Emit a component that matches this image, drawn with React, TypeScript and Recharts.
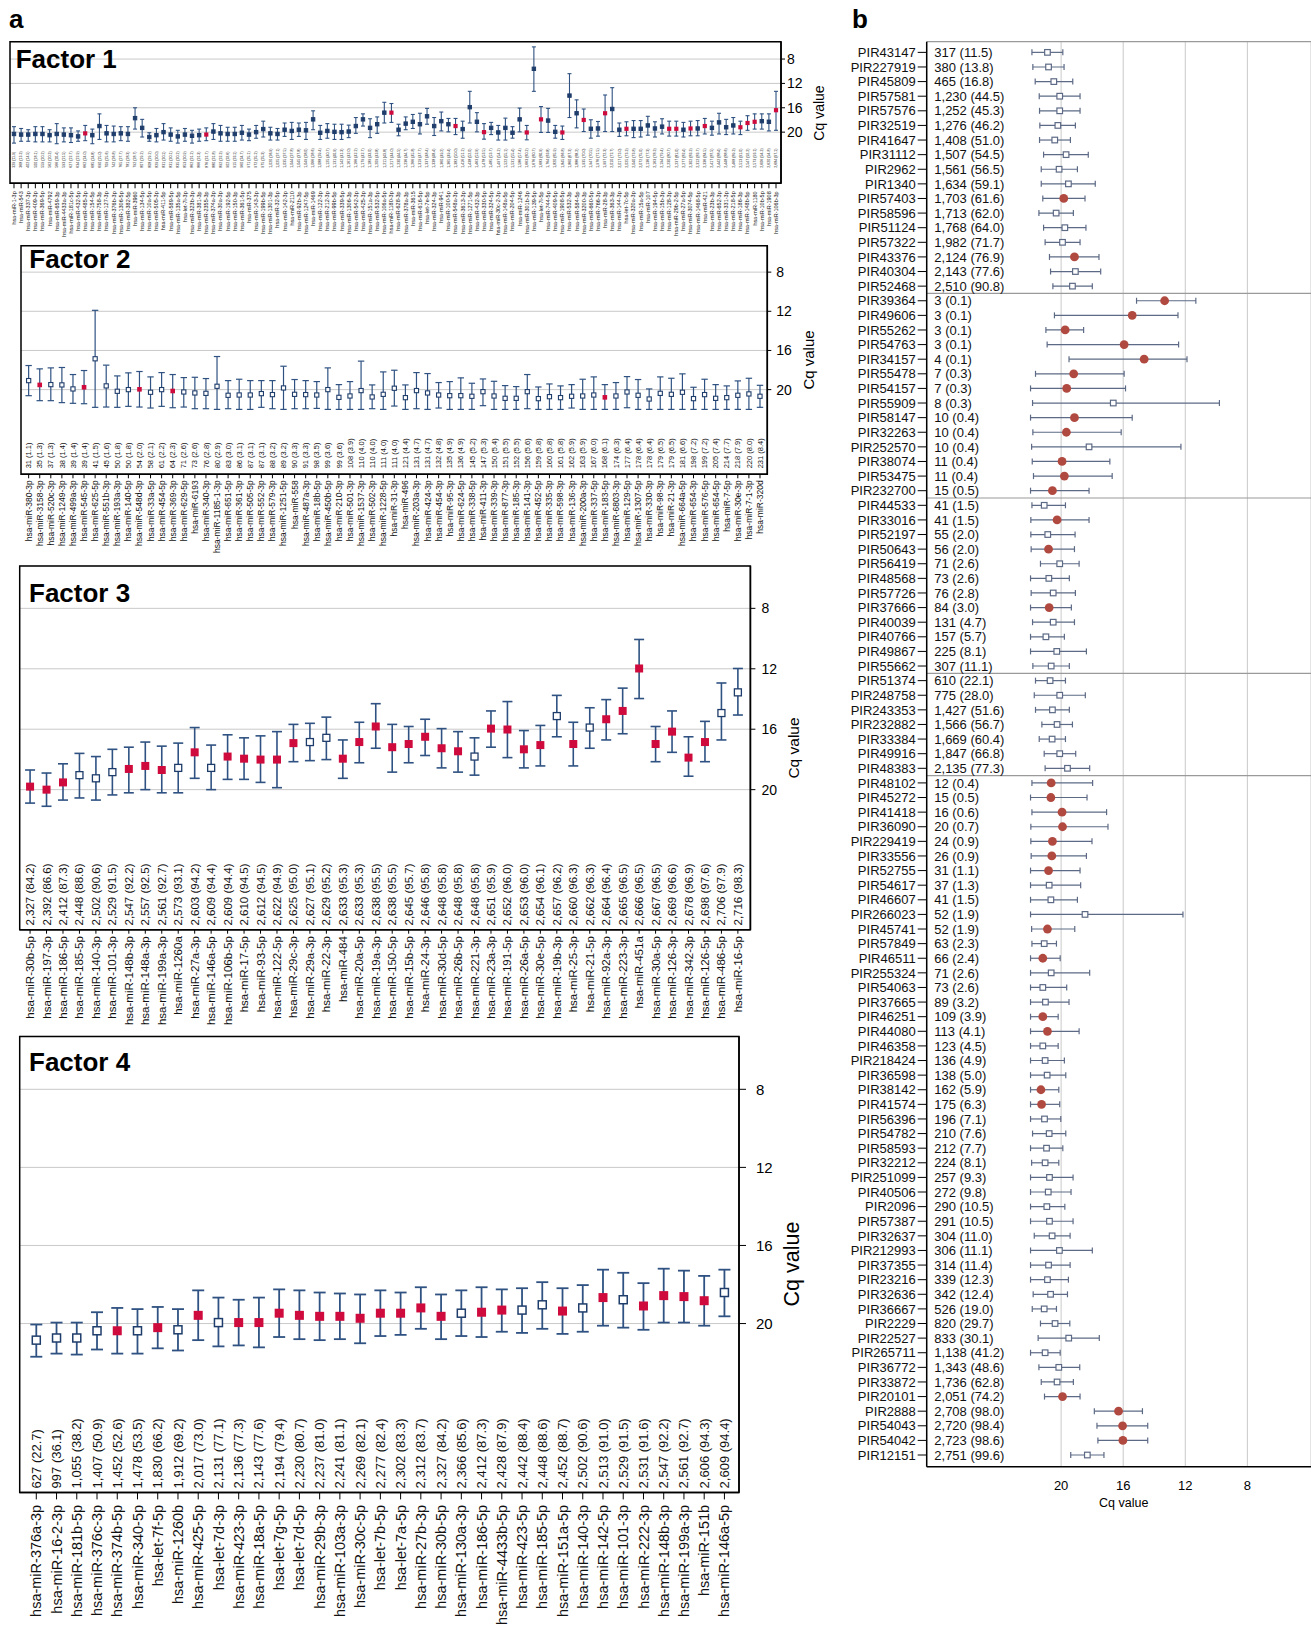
import React from 'react';
import {
  ScatterChart,
  Scatter,
  XAxis,
  YAxis,
  CartesianGrid,
  ErrorBar,
  ReferenceArea,
  ReferenceLine,
} from 'recharts';

const FONT = '"Liberation Sans", Arial, Helvetica, sans-serif';
const NAVY = '#1f3d6b';
const BAR = '#2f5282';
const RED = '#cf0a3c';
const GRID = '#c9c9c9';
const PIR_BAR = '#5d6a86';
const PIR_RED = '#b04a40';

const cqTicks = [8, 12, 16, 20];

// ---- Factor 1 ----
const f1Names = [
  'hsa-miR-1-3p', 'hsa-miR-543', 'hsa-miR-337-3p', 'hsa-miR-409-3p', 'hsa-miR-369-5p', 'hsa-miR-4792', 'hsa-miR-659-3p', 'hsa-miR-4433a-3p', 'hsa-miR-181c-5p', 'hsa-miR-432-5p',
  'hsa-miR-485-3p', 'hsa-miR-154-5p', 'hsa-miR-758-3p', 'hsa-miR-127-3p', 'hsa-miR-376b-3p', 'hsa-miR-1306-5p', 'hsa-miR-382-5p', 'hsa-miR-3960', 'hsa-miR-134-5p', 'hsa-miR-10a-5p',
  'hsa-miR-505-3p', 'hsa-miR-411-5p', 'hsa-miR-589-5p', 'hsa-miR-135a-5p', 'hsa-let-7i-3p', 'hsa-miR-323b-3p', 'hsa-miR-381-3p', 'hsa-miR-2355-3p', 'hsa-miR-374a-3p', 'hsa-miR-30a-3p',
  'hsa-miR-192-5p', 'hsa-miR-150-3p', 'hsa-miR-361-5p', 'hsa-miR-375', 'hsa-miR-143-3p', 'hsa-miR-199b-5p', 'hsa-miR-1301-3p', 'hsa-miR-32-5p', 'hsa-miR-142-3p', 'hsa-miR-2110',
  'hsa-miR-92b-3p', 'hsa-miR-1247-5p', 'hsa-miR-1469', 'hsa-miR-122-3p', 'hsa-miR-212-3p', 'hsa-miR-99b-5p', 'hsa-miR-339-5p', 'hsa-miR-1306-3p', 'hsa-miR-542-3p', 'hsa-miR-425-3p',
  'hsa-miR-151a-3p', 'hsa-miR-532-5p', 'hsa-miR-106a-5p', 'hsa-miR-1180-3p', 'hsa-miR-628-3p', 'hsa-miR-378a-3p', 'hsa-miR-3615', 'hsa-miR-616-5p', 'hsa-let-7e-5p', 'hsa-miR-324-3p',
  'hsa-miR-941', 'hsa-miR-100-5p', 'hsa-miR-548a-3p', 'hsa-miR-3613-3p', 'hsa-miR-1271-5p', 'hsa-miR-432-3p', 'hsa-miR-330-5p', 'hsa-miR-324-5p', 'hsa-miR-30c-2-3p', 'hsa-miR-148a-5p',
  'hsa-miR-204-5p', 'hsa-miR-1246', 'hsa-miR-301b-3p', 'hsa-miR-139-5p', 'hsa-let-7i-5p', 'hsa-miR-744-5p', 'hsa-miR-409-5p', 'hsa-miR-1908-5p', 'hsa-miR-532-3p', 'hsa-miR-584-5p',
  'hsa-miR-3200-3p', 'hsa-miR-660-5p', 'hsa-miR-766-3p', 'hsa-miR-28-3p', 'hsa-miR-363-3p', 'hsa-miR-144-3p', 'hsa-let-7c-5p', 'hsa-miR-320a-3p', 'hsa-miR-15a-5p', 'hsa-miR-107',
  'hsa-miR-194-5p', 'hsa-miR-15b-3p', 'hsa-miR-128-3p', 'hsa-miR-29b-2-5p', 'hsa-miR-27a-5p', 'hsa-miR-3074-5p', 'hsa-miR-1468-5p', 'hsa-miR-421', 'hsa-miR-23b-3p', 'hsa-miR-652-3p',
  'hsa-miR-331-3p', 'hsa-miR-218-5p', 'hsa-miR-186-3p', 'hsa-miR-148b-5p', 'hsa-miR-1180', 'hsa-miR-10b-5p', 'hsa-miR-1908', 'hsa-miR-106b-3p',
];
const f1Counts = [
  '329 (11.9)', '368 (13.3)', '402 (14.5)', '500 (18.1)', '559 (20.2)', '562 (20.3)', '566 (20.4)', '593 (21.5)', '627 (22.7)', '634 (22.9)',
  '662 (24.0)', '685 (24.8)', '690 (25.0)', '709 (25.6)', '742 (26.8)', '765 (27.7)', '781 (28.3)', '792 (28.7)', '807 (29.2)', '808 (29.2)',
  '829 (30.0)', '831 (30.1)', '831 (30.1)', '835 (30.2)', '853 (30.9)', '862 (31.2)', '866 (31.3)', '876 (31.7)', '880 (31.8)', '892 (32.3)',
  '902 (32.6)', '915 (33.1)', '960 (34.7)', '971 (35.1)', '972 (35.2)', '975 (35.3)', '1,020 (36.9)', '1,025 (37.1)', '1,035 (37.5)', '1,044 (37.8)',
  '1,045 (37.8)', '1,049 (38.0)', '1,066 (38.6)', '1,088 (39.4)', '1,125 (40.7)', '1,131 (40.9)', '1,142 (41.3)', '1,161 (42.0)', '1,166 (42.2)', '1,179 (42.7)',
  '1,189 (43.0)', '1,209 (43.8)', '1,211 (43.8)', '1,217 (44.0)', '1,230 (44.5)', '1,236 (44.7)', '1,266 (45.8)', '1,319 (47.7)', '1,337 (48.4)', '1,338 (48.4)',
  '1,360 (49.2)', '1,365 (49.4)', '1,382 (50.0)', '1,416 (51.2)', '1,438 (52.0)', '1,463 (52.9)', '1,478 (53.5)', '1,485 (53.7)', '1,497 (54.2)', '1,522 (55.1)',
  '1,531 (55.4)', '1,586 (57.4)', '1,663 (60.2)', '1,676 (60.7)', '1,683 (60.9)', '1,764 (63.8)', '1,820 (65.9)', '1,845 (66.8)', '1,860 (67.3)', '1,886 (68.2)',
  '1,935 (70.0)', '1,947 (70.5)', '1,976 (71.5)', '1,997 (72.3)', '2,010 (72.7)', '2,017 (73.0)', '2,025 (73.3)', '2,040 (73.8)', '2,072 (75.0)', '2,136 (77.3)',
  '2,163 (78.3)', '2,194 (79.4)', '2,230 (80.7)', '2,237 (81.0)', '2,277 (82.4)', '2,302 (83.3)', '2,312 (83.7)', '2,336 (84.5)', '2,417 (87.5)', '2,442 (88.4)',
  '2,448 (88.6)', '2,468 (89.3)', '2,513 (91.0)', '2,547 (92.2)', '2,573 (93.1)', '2,606 (94.3)', '2,620 (94.8)', '2,684 (97.1)',
];
const f1Mean = [
  20.3, 20.4, 20.4, 20.3, 20.3, 20.5, 20.3, 20.4, 20.5, 20.7,
  20.2, 20.5, 19.0, 20.2, 20.3, 20.2, 20.3, 17.7, 19.3, 20.8,
  20.5, 20.0, 20.4, 20.7, 20.4, 20.6, 20.5, 20.4, 19.9, 20.2,
  20.3, 20.3, 20.1, 20.4, 20.0, 19.5, 20.2, 20.3, 19.6, 19.8,
  19.6, 19.7, 17.9, 20.1, 19.8, 19.95, 20.0, 19.9, 19.0, 17.9,
  19.3, 18.7, 16.8, 16.8, 19.6, 18.6, 18.3, 18.7, 17.4, 19.0,
  18.2, 18.7, 19.0, 19.5, 15.9, 18.3, 20.0, 19.3, 20.05, 19.3,
  20.1, 17.9, 20.05, 9.6, 17.9, 18.1, 19.95, 20.05, 14.0, 16.9,
  18.0, 19.45, 19.4, 16.9, 16.2, 19.6, 19.45, 19.45, 19.45, 18.9,
  19.4, 19.1, 19.45, 19.45, 19.6, 19.4, 19.4, 19.0, 19.3, 18.4,
  19.2, 18.9, 19.2, 18.5, 18.3, 18.2, 18.3, 16.4,
];
const f1Lo = [
  19.1, 19.4, 19.6, 19.1, 19.1, 19.6, 18.6, 19.3, 19.3, 19.8,
  18.9, 19.5, 17.0, 18.9, 19.0, 19.1, 19.1, 16.0, 17.9, 20.1,
  19.4, 18.6, 19.3, 19.7, 19.4, 19.7, 19.5, 19.3, 18.6, 18.9,
  19.2, 19.2, 18.9, 19.5, 18.9, 18.2, 19.2, 19.4, 18.5, 18.4,
  18.5, 18.4, 16.5, 18.9, 18.6, 18.7, 18.7, 18.85, 17.6, 17.0,
  17.8, 17.5, 15.1, 15.3, 18.7, 17.5, 17.1, 16.9, 16.1, 17.6,
  16.7, 17.75, 17.75, 18.2, 13.3, 16.8, 18.6, 18.4, 18.9, 17.7,
  19.1, 16.05, 18.9, 6.0, 15.8, 16.1, 18.9, 19.0, 10.4, 14.7,
  16.2, 17.97, 18.25, 13.9, 12.7, 18.5, 18.3, 18.1, 18.1, 17.4,
  18.3, 17.8, 18.2, 18.2, 18.4, 18.2, 18.1, 17.75, 18.2, 16.9,
  17.9, 17.6, 18.2, 17.3, 17.0, 17.0, 17.0, 13.3,
];
const f1Hi = [
  21.8, 21.5, 21.5, 21.6, 21.6, 21.6, 21.9, 21.6, 21.7, 21.5,
  21.4, 21.9, 21.2, 21.6, 21.6, 21.4, 21.5, 19.5, 20.8, 21.5,
  21.6, 21.3, 21.5, 21.8, 21.5, 21.8, 21.5, 21.4, 21.2, 21.5,
  21.5, 21.5, 21.3, 21.4, 21.0, 20.8, 21.3, 21.3, 20.7, 21.2,
  20.7, 21.2, 19.6, 21.2, 21.0, 21.2, 21.2, 20.9, 20.2, 19.0,
  20.9, 20.2, 18.5, 18.4, 20.6, 19.6, 19.4, 20.3, 18.7, 20.55,
  19.8, 19.95, 20.4, 21.0, 18.5, 19.95, 21.15, 20.4, 21.3, 21.3,
  20.99, 19.95, 21.26, 13.3, 20.05, 20.05, 20.99, 21.2, 17.6, 19.3,
  19.9, 20.99, 20.66, 19.9, 19.9, 20.7, 20.6, 20.9, 20.8, 20.5,
  20.8, 20.3, 20.65, 20.65, 20.8, 20.6, 20.6, 20.3, 20.5, 20.3,
  20.4, 20.3, 20.4, 19.7, 19.5, 19.5, 19.8, 19.7,
];
const f1Sig = [
  0, 0, 0, 0, 0, 0, 0, 0, 0, 0,
  1, 0, 0, 0, 0, 0, 0, 0, 0, 0,
  0, 0, 0, 0, 0, 0, 0, 1, 0, 0,
  0, 0, 0, 0, 0, 0, 0, 0, 0, 0,
  0, 0, 0, 0, 0, 0, 0, 0, 0, 0,
  0, 0, 0, 1, 0, 0, 0, 0, 0, 0,
  0, 0, 1, 0, 0, 0, 1, 0, 0, 0,
  0, 0, 1, 0, 1, 0, 0, 1, 0, 0,
  1, 0, 0, 1, 0, 0, 1, 0, 0, 0,
  0, 0, 1, 1, 0, 1, 0, 1, 0, 0,
  0, 0, 1, 1, 1, 0, 0, 1,
];

// ---- Factor 2 ----
const f2Names = [
  'hsa-miR-380-3p', 'hsa-miR-3158-3p', 'hsa-miR-520c-3p', 'hsa-miR-1249-3p', 'hsa-miR-499a-3p', 'hsa-miR-545-3p', 'hsa-miR-625-5p', 'hsa-miR-551b-3p', 'hsa-miR-193a-3p', 'hsa-miR-140-5p',
  'hsa-miR-548d-3p', 'hsa-miR-33a-5p', 'hsa-miR-454-5p', 'hsa-miR-369-3p', 'hsa-miR-629-5p', 'hsa-miR-6193', 'hsa-miR-340-3p', 'hsa-miR-1185-1-3p', 'hsa-miR-651-5p', 'hsa-miR-361-3p',
  'hsa-miR-505-5p', 'hsa-miR-552-3p', 'hsa-miR-579-3p', 'hsa-miR-1251-5p', 'hsa-miR-558', 'hsa-miR-487a-3p', 'hsa-miR-18b-5p', 'hsa-miR-450b-5p', 'hsa-miR-210-3p', 'hsa-miR-501-3p',
  'hsa-miR-1537-3p', 'hsa-miR-502-3p', 'hsa-miR-1228-5p', 'hsa-miR-31-3p', 'hsa-miR-496', 'hsa-miR-203a-3p', 'hsa-miR-424-3p', 'hsa-miR-454-3p', 'hsa-miR-95-3p', 'hsa-miR-624-5p',
  'hsa-miR-338-5p', 'hsa-miR-411-3p', 'hsa-miR-339-3p', 'hsa-miR-877-3p', 'hsa-miR-185-3p', 'hsa-miR-141-3p', 'hsa-miR-452-5p', 'hsa-miR-335-3p', 'hsa-miR-598-3p', 'hsa-miR-136-3p',
  'hsa-miR-200a-3p', 'hsa-miR-337-5p', 'hsa-miR-183-5p', 'hsa-miR-6803-3p', 'hsa-miR-129-5p', 'hsa-miR-1307-5p', 'hsa-miR-330-3p', 'hsa-miR-98-3p', 'hsa-miR-21-3p', 'hsa-miR-664a-5p',
  'hsa-miR-654-3p', 'hsa-miR-576-5p', 'hsa-miR-654-5p', 'hsa-miR-7-5p', 'hsa-miR-30e-3p', 'hsa-miR-7-1-3p', 'hsa-miR-320d',
];
const f2Counts = [
  '31 (1.1)', '35 (1.3)', '37 (1.3)', '38 (1.4)', '39 (1.4)', '39 (1.4)', '41 (1.5)', '45 (1.6)', '50 (1.8)', '50 (1.8)',
  '54 (2.0)', '58 (2.1)', '61 (2.2)', '64 (2.3)', '71 (2.6)', '73 (2.6)', '76 (2.8)', '80 (2.9)', '83 (3.0)', '86 (3.1)',
  '87 (3.1)', '87 (3.1)', '88 (3.2)', '89 (3.2)', '90 (3.3)', '91 (3.3)', '98 (3.5)', '99 (3.6)', '99 (3.6)', '108 (3.9)',
  '110 (4.0)', '110 (4.0)', '111 (4.0)', '111 (4.0)', '121 (4.4)', '131 (4.7)', '131 (4.7)', '132 (4.8)', '135 (4.9)', '136 (4.9)',
  '145 (5.2)', '147 (5.3)', '150 (5.4)', '151 (5.5)', '152 (5.5)', '156 (5.6)', '159 (5.8)', '160 (5.8)', '161 (5.8)', '162 (5.9)',
  '163 (5.9)', '167 (6.0)', '168 (6.1)', '174 (6.3)', '177 (6.4)', '178 (6.4)', '178 (6.4)', '179 (6.5)', '179 (6.5)', '181 (6.6)',
  '198 (7.2)', '199 (7.2)', '205 (7.4)', '214 (7.7)', '218 (7.9)', '220 (8.0)', '231 (8.4)',
];
const f2Mean = [
  19.08, 19.52, 19.49, 19.52, 19.93, 19.76, 16.85, 19.62, 20.17, 20.0,
  19.97, 20.27, 20.0, 20.14, 20.24, 20.34, 20.38, 19.66, 20.58, 20.55,
  20.55, 20.41, 20.51, 19.83, 20.48, 20.51, 20.55, 20.0, 20.79, 20.65,
  20.1, 20.75, 20.48, 19.86, 20.82, 20.1, 20.34, 20.55, 20.62, 20.62,
  20.68, 20.21, 20.65, 20.89, 20.89, 20.21, 20.92, 20.72, 20.82, 20.68,
  20.65, 20.55, 20.79, 20.65, 20.24, 20.58, 20.96, 20.38, 20.48, 20.27,
  20.92, 20.51, 20.89, 20.82, 20.58, 20.44, 20.68,
];
const f2Lo = [
  17.54, 17.88, 17.78, 17.74, 18.46, 18.05, 11.9, 17.5, 18.6, 18.29,
  18.15, 18.7, 18.26, 18.46, 18.77, 18.74, 18.87, 16.62, 19.08, 18.94,
  19.08, 19.08, 19.08, 17.61, 18.97, 19.08, 19.18, 17.78, 19.49, 19.18,
  17.09, 19.52, 18.19, 18.02, 19.52, 18.26, 18.36, 19.28, 19.18, 18.8,
  19.35, 18.91, 19.15, 19.59, 19.69, 18.46, 19.73, 19.42, 19.62, 19.49,
  18.94, 18.7, 19.49, 19.28, 18.67, 18.97, 19.93, 18.7, 18.84, 18.39,
  19.76, 18.94, 19.49, 19.62, 19.11, 18.84, 19.56,
];
const f2Hi = [
  20.62, 21.13, 21.13, 21.33, 21.4, 21.44, 21.81, 21.78, 21.81, 21.71,
  21.78, 21.88, 21.71, 21.85, 21.78, 21.95, 21.95, 22.02, 21.95, 22.02,
  22.02, 21.81, 21.95, 22.02, 21.95, 21.95, 21.92, 22.02, 22.02, 22.02,
  22.02, 21.95, 22.02, 21.68, 22.02, 21.95, 22.02, 21.88, 22.02, 22.02,
  22.02, 21.64, 22.02, 22.02, 22.02, 21.95, 22.02, 22.02, 22.02, 21.88,
  22.02, 22.02, 22.02, 22.02, 21.85, 22.02, 22.02, 22.02, 22.02, 22.02,
  22.02, 22.02, 22.02, 22.02, 22.02, 22.02, 21.81,
];
const f2Sig = [
  0, 1, 0, 0, 0, 1, 0, 0, 0, 0,
  1, 0, 0, 1, 0, 0, 0, 0, 0, 0,
  0, 0, 0, 0, 0, 0, 0, 0, 0, 0,
  0, 0, 0, 0, 0, 0, 0, 0, 0, 0,
  0, 0, 0, 0, 0, 0, 0, 0, 0, 0,
  0, 0, 1, 0, 0, 0, 0, 0, 0, 0,
  0, 0, 0, 0, 0, 0, 0,
];

// ---- Factor 3 ----
const f3Names = [
  'hsa-miR-30b-5p', 'hsa-miR-197-3p', 'hsa-miR-186-5p', 'hsa-miR-185-5p', 'hsa-miR-140-3p', 'hsa-miR-101-3p', 'hsa-miR-148b-3p', 'hsa-miR-148a-3p', 'hsa-miR-199a-3p', 'hsa-miR-1260a',
  'hsa-miR-27a-3p', 'hsa-miR-146a-5p', 'hsa-miR-106b-5p', 'hsa-miR-17-5p', 'hsa-miR-93-5p', 'hsa-miR-122-5p', 'hsa-miR-29c-3p', 'hsa-miR-29a-3p', 'hsa-miR-22-3p', 'hsa-miR-484',
  'hsa-miR-20a-5p', 'hsa-miR-19a-3p', 'hsa-miR-150-5p', 'hsa-miR-15b-5p', 'hsa-miR-24-3p', 'hsa-miR-30d-5p', 'hsa-miR-26b-5p', 'hsa-miR-221-3p', 'hsa-miR-23a-3p', 'hsa-miR-191-5p',
  'hsa-miR-26a-5p', 'hsa-miR-30e-5p', 'hsa-miR-19b-3p', 'hsa-miR-25-3p', 'hsa-miR-21-5p', 'hsa-miR-92a-3p', 'hsa-miR-223-3p', 'hsa-miR-451a', 'hsa-miR-30a-5p', 'hsa-miR-126-3p',
  'hsa-miR-342-3p', 'hsa-miR-126-5p', 'hsa-miR-486-5p', 'hsa-miR-16-5p',
];
const f3Counts = [
  '2,327 (84.2)', '2,392 (86.6)', '2,412 (87.3)', '2,448 (88.6)', '2,502 (90.6)', '2,529 (91.5)', '2,547 (92.2)', '2,557 (92.5)', '2,561 (92.7)', '2,573 (93.1)',
  '2,603 (94.2)', '2,609 (94.4)', '2,609 (94.4)', '2,610 (94.5)', '2,612 (94.5)', '2,622 (94.9)', '2,625 (95.0)', '2,627 (95.1)', '2,629 (95.2)', '2,633 (95.3)',
  '2,633 (95.3)', '2,638 (95.5)', '2,638 (95.5)', '2,645 (95.7)', '2,646 (95.8)', '2,648 (95.8)', '2,648 (95.8)', '2,648 (95.8)', '2,651 (95.9)', '2,652 (96.0)',
  '2,653 (96.0)', '2,654 (96.1)', '2,657 (96.2)', '2,660 (96.3)', '2,662 (96.3)', '2,664 (96.4)', '2,665 (96.5)', '2,666 (96.5)', '2,667 (96.5)', '2,669 (96.6)',
  '2,678 (96.9)', '2,698 (97.6)', '2,706 (97.9)', '2,716 (98.3)',
];
const f3Mean = [
  19.8, 20.0, 19.52, 19.04, 19.25, 18.84, 18.63, 18.43, 18.7, 18.56,
  17.53, 18.56, 17.81, 17.95, 18.01, 18.01, 16.92, 16.85, 16.57, 17.95,
  16.85, 15.82, 17.19, 16.98, 16.5, 17.26, 17.46, 17.81, 15.96, 16.02,
  17.33, 17.05, 15.13, 16.98, 15.89, 15.34, 14.79, 11.98, 16.98, 16.16,
  17.88, 16.85, 14.93, 13.56,
];
const f3Lo = [
  18.7, 18.9, 18.29, 17.6, 17.81, 17.33, 17.19, 16.85, 17.12, 16.92,
  15.89, 17.05, 16.37, 16.57, 16.44, 16.16, 15.68, 15.61, 15.2, 16.71,
  15.54, 14.31, 15.68, 15.82, 15.34, 15.96, 16.16, 16.57, 14.79, 14.17,
  16.09, 15.75, 13.76, 15.54, 14.58, 14.04, 13.28, 10.06, 15.82, 14.79,
  16.5, 15.48, 12.94, 11.98,
];
const f3Hi = [
  20.89, 21.1, 20.69, 20.55, 20.69, 20.35, 20.21, 20.0, 20.21, 20.21,
  19.25, 20.0, 19.32, 19.32, 19.52, 19.87, 18.15, 18.08, 18.01, 19.25,
  18.22, 17.26, 18.84, 18.22, 17.74, 18.56, 18.84, 19.04, 17.19, 17.88,
  18.56, 18.43, 16.5, 18.43, 17.26, 16.71, 16.3, 13.97, 18.15, 17.53,
  19.11, 18.15, 16.71, 15.06,
];
const f3Sig = [
  1, 1, 1, 0, 0, 0, 1, 1, 1, 0,
  1, 0, 1, 1, 1, 1, 1, 0, 0, 1,
  1, 1, 1, 1, 1, 1, 1, 0, 1, 1,
  1, 1, 0, 1, 0, 1, 1, 1, 1, 1,
  1, 1, 0, 0,
];

// ---- Factor 4 ----
const f4Names = [
  'hsa-miR-376a-3p', 'hsa-miR-16-2-3p', 'hsa-miR-181b-5p', 'hsa-miR-376c-3p', 'hsa-miR-374b-5p', 'hsa-miR-340-5p', 'hsa-let-7f-5p', 'hsa-miR-1260b', 'hsa-miR-425-5p', 'hsa-let-7d-3p',
  'hsa-miR-423-3p', 'hsa-miR-18a-5p', 'hsa-let-7g-5p', 'hsa-let-7d-5p', 'hsa-miR-29b-3p', 'hsa-miR-103a-3p', 'hsa-miR-30c-5p', 'hsa-let-7b-5p', 'hsa-let-7a-5p', 'hsa-miR-27b-3p',
  'hsa-miR-30b-5p', 'hsa-miR-130a-3p', 'hsa-miR-186-5p', 'hsa-miR-4433b-5p', 'hsa-miR-423-5p', 'hsa-miR-185-5p', 'hsa-miR-151a-5p', 'hsa-miR-140-3p', 'hsa-miR-142-5p', 'hsa-miR-101-3p',
  'hsa-miR-222-3p', 'hsa-miR-148b-3p', 'hsa-miR-199a-3p', 'hsa-miR-151b', 'hsa-miR-146a-5p',
];
const f4Counts = [
  '627 (22.7)', '997 (36.1)', '1,055 (38.2)', '1,407 (50.9)', '1,452 (52.6)', '1,478 (53.5)', '1,830 (66.2)', '1,912 (69.2)', '2,017 (73.0)', '2,131 (77.1)',
  '2,136 (77.3)', '2,143 (77.6)', '2,194 (79.4)', '2,230 (80.7)', '2,237 (81.0)', '2,241 (81.1)', '2,269 (82.1)', '2,277 (82.4)', '2,302 (83.3)', '2,312 (83.7)',
  '2,327 (84.2)', '2,366 (85.6)', '2,412 (87.3)', '2,428 (87.9)', '2,442 (88.4)', '2,448 (88.6)', '2,452 (88.7)', '2,502 (90.6)', '2,513 (91.0)', '2,529 (91.5)',
  '2,531 (91.6)', '2,547 (92.2)', '2,561 (92.7)', '2,606 (94.3)', '2,609 (94.4)',
];
const f4Mean = [
  20.85, 20.74, 20.74, 20.37, 20.37, 20.37, 20.21, 20.32, 19.58, 19.95,
  19.95, 19.95, 19.47, 19.58, 19.63, 19.63, 19.73, 19.47, 19.47, 19.2,
  19.63, 19.47, 19.42, 19.31, 19.31, 19.04, 19.36, 19.2, 18.67, 18.78,
  19.1, 18.57, 18.62, 18.83, 18.41,
];
const f4Lo = [
  20.05, 19.95, 19.95, 19.42, 19.2, 19.26, 19.15, 19.26, 18.3, 18.67,
  18.78, 18.67, 18.25, 18.3, 18.41, 18.46, 18.51, 18.3, 18.41, 18.14,
  18.51, 18.3, 18.14, 18.25, 18.19, 17.88, 18.19, 18.03, 17.24, 17.4,
  17.93, 17.19, 17.29, 17.56, 17.24,
];
const f4Hi = [
  21.7, 21.54, 21.59, 21.33, 21.54, 21.54, 21.27, 21.38, 20.85, 21.17,
  21.12, 21.22, 20.69, 20.8, 20.85, 20.8, 21.01, 20.64, 20.58, 20.27,
  20.8, 20.64, 20.69, 20.42, 20.48, 20.27, 20.53, 20.42, 20.11, 20.21,
  20.32, 19.95, 19.95, 20.11, 19.63,
];
const f4Sig = [
  0, 0, 0, 0, 1, 0, 1, 0, 1, 0,
  1, 1, 1, 1, 1, 1, 1, 1, 1, 1,
  1, 0, 1, 1, 0, 0, 1, 0, 1, 0,
  1, 1, 1, 1, 0,
];

// ---- panel b ----
const pirGroupSizes = [17, 14, 12, 7, 47];
const pirNames = [
  'PIR43147', 'PIR227919', 'PIR45809', 'PIR57581', 'PIR57576', 'PIR32519', 'PIR41647', 'PIR31112', 'PIR2962', 'PIR1340', 'PIR57403', 'PIR58596', 'PIR51124', 'PIR57322', 'PIR43376', 'PIR40304', 'PIR52468',
  'PIR39364', 'PIR49606', 'PIR55262', 'PIR54763', 'PIR34157', 'PIR55478', 'PIR54157', 'PIR55909', 'PIR58147', 'PIR32263', 'PIR252570', 'PIR38074', 'PIR53475', 'PIR232700',
  'PIR44533', 'PIR33016', 'PIR52197', 'PIR50643', 'PIR56419', 'PIR48568', 'PIR57726', 'PIR37666', 'PIR40039', 'PIR40766', 'PIR49867', 'PIR55662',
  'PIR51374', 'PIR248758', 'PIR243353', 'PIR232882', 'PIR33384', 'PIR49916', 'PIR48383',
  'PIR48102', 'PIR45272', 'PIR41418', 'PIR36090', 'PIR229419', 'PIR33556', 'PIR52755', 'PIR54617', 'PIR46607', 'PIR266023',
  'PIR45741', 'PIR57849', 'PIR46511', 'PIR255324', 'PIR54063', 'PIR37665', 'PIR46251', 'PIR44080', 'PIR46358', 'PIR218424',
  'PIR36598', 'PIR38142', 'PIR41574', 'PIR56396', 'PIR54782', 'PIR58593', 'PIR32212', 'PIR251099', 'PIR40506', 'PIR2096',
  'PIR57387', 'PIR32637', 'PIR212993', 'PIR37355', 'PIR23216', 'PIR32636', 'PIR36667', 'PIR2229', 'PIR22527', 'PIR265711',
  'PIR36772', 'PIR33872', 'PIR20101', 'PIR2888', 'PIR54043', 'PIR54042', 'PIR12151',
];
const pirCounts = [
  '317 (11.5)', '380 (13.8)', '465 (16.8)', '1,230 (44.5)', '1,252 (45.3)', '1,276 (46.2)', '1,408 (51.0)', '1,507 (54.5)', '1,561 (56.5)', '1,634 (59.1)', '1,703 (61.6)', '1,713 (62.0)', '1,768 (64.0)', '1,982 (71.7)', '2,124 (76.9)', '2,143 (77.6)', '2,510 (90.8)',
  '3 (0.1)', '3 (0.1)', '3 (0.1)', '3 (0.1)', '4 (0.1)', '7 (0.3)', '7 (0.3)', '8 (0.3)', '10 (0.4)', '10 (0.4)', '10 (0.4)', '11 (0.4)', '11 (0.4)', '15 (0.5)',
  '41 (1.5)', '41 (1.5)', '55 (2.0)', '56 (2.0)', '71 (2.6)', '73 (2.6)', '76 (2.8)', '84 (3.0)', '131 (4.7)', '157 (5.7)', '225 (8.1)', '307 (11.1)',
  '610 (22.1)', '775 (28.0)', '1,427 (51.6)', '1,566 (56.7)', '1,669 (60.4)', '1,847 (66.8)', '2,135 (77.3)',
  '12 (0.4)', '15 (0.5)', '16 (0.6)', '20 (0.7)', '24 (0.9)', '26 (0.9)', '31 (1.1)', '37 (1.3)', '41 (1.5)', '52 (1.9)',
  '52 (1.9)', '63 (2.3)', '66 (2.4)', '71 (2.6)', '73 (2.6)', '89 (3.2)', '109 (3.9)', '113 (4.1)', '123 (4.5)', '136 (4.9)',
  '138 (5.0)', '162 (5.9)', '175 (6.3)', '196 (7.1)', '210 (7.6)', '212 (7.7)', '224 (8.1)', '257 (9.3)', '272 (9.8)', '290 (10.5)',
  '291 (10.5)', '304 (11.0)', '306 (11.1)', '314 (11.4)', '339 (12.3)', '342 (12.4)', '526 (19.0)', '820 (29.7)', '833 (30.1)', '1,138 (41.2)',
  '1,343 (48.6)', '1,736 (62.8)', '2,051 (74.2)', '2,708 (98.0)', '2,720 (98.4)', '2,723 (98.6)', '2,751 (99.6)',
];
const pirMean = [
  20.88, 20.81, 20.47, 20.09, 20.09, 20.21, 20.41, 19.68, 20.13, 19.53, 19.83, 20.32, 19.76, 19.91, 19.14, 19.08, 19.27,
  13.33, 15.42, 19.74, 15.94, 14.65, 19.19, 19.64, 16.64, 19.14, 19.66, 18.2, 19.94, 19.79, 20.56,
  21.09, 20.26, 20.86, 20.81, 20.09, 20.79, 20.51, 20.77, 20.51, 20.98, 20.28, 20.64,
  20.71, 20.09, 20.56, 20.26, 20.58, 20.09, 19.59,
  20.64, 20.66, 19.94, 19.91, 20.56, 20.6, 20.81, 20.77, 20.66, 18.46,
  20.88, 21.09, 21.18, 20.64, 21.18, 21.01, 21.18, 20.88, 21.18, 21.03,
  20.9, 21.3, 21.26, 21.07, 20.77, 20.94, 21.03, 20.75, 20.83, 20.92,
  20.75, 20.58, 20.11, 20.81, 20.88, 20.68, 21.09, 20.39, 19.51, 21.03,
  20.15, 20.26, 19.91, 16.3, 16.04, 16.02, 18.31,
];
const pirLo = [
  19.89, 19.81, 19.25, 18.78, 18.78, 19.08, 19.4, 18.25, 18.95, 17.8, 18.46, 19.21, 18.4, 18.78, 17.56, 17.45, 17.99,
  11.32, 12.47, 18.55, 12.43, 11.89, 15.94, 15.85, 9.8, 15.42, 16.13, 12.28, 16.86, 16.71, 18.2,
  19.72, 18.2, 19.1, 19.14, 18.84, 19.47, 19.08, 19.34, 19.14, 19.79, 18.37, 19.47,
  19.72, 18.44, 19.47, 19.27, 19.72, 19.06, 18.16,
  17.97, 18.33, 17.07, 16.98, 18.01, 18.37, 18.78, 18.74, 18.95, 12.15,
  19.12, 20.3, 20.06, 18.16, 19.64, 19.49, 20.19, 18.84, 20.19, 19.79,
  19.7, 20.15, 20.09, 20.02, 19.7, 19.89, 20.15, 19.23, 19.36, 19.76,
  19.23, 19.42, 17.99, 19.42, 19.53, 19.59, 20.3, 19.44, 17.54, 20.06,
  18.8, 19.21, 18.78, 14.76, 14.42, 14.42, 17.24,
];
const pirHi = [
  21.88, 21.82, 21.67, 21.41, 21.39, 21.37, 21.39, 21.13, 21.28, 21.28, 21.18, 21.43, 21.13, 21.03, 20.75, 20.68, 20.53,
  15.14, 20.43, 20.98, 20.9, 19.49, 21.65, 21.97, 21.84, 21.97, 21.82, 21.9, 21.86, 21.78, 21.97,
  21.88, 21.95, 21.95, 21.93, 21.33, 21.97, 21.93, 21.97, 21.84, 21.97, 21.97, 21.82,
  21.65, 21.73, 21.65, 21.24, 21.41, 21.09, 21.03,
  21.88, 21.97, 21.88, 21.95, 21.95, 21.93, 21.97, 21.97, 21.97, 21.97,
  21.9, 21.88, 21.97, 21.97, 21.97, 21.97, 21.97, 21.97, 21.97, 21.97,
  21.97, 21.97, 21.97, 21.97, 21.84, 21.97, 21.9, 21.97, 21.97, 21.97,
  21.97, 21.73, 21.97, 21.97, 21.97, 21.8, 21.86, 21.33, 21.48, 21.97,
  21.43, 21.28, 21.07, 17.86, 17.69, 17.63, 19.38,
];
const pirSig = [
  0, 0, 0, 0, 0, 0, 0, 0, 0, 0, 1, 0, 0, 0, 1, 0, 0,
  1, 1, 1, 1, 1, 1, 1, 0, 1, 1, 0, 1, 1, 1,
  0, 1, 0, 1, 0, 0, 0, 1, 0, 0, 0, 0,
  0, 0, 0, 0, 0, 0, 0,
  1, 1, 1, 1, 1, 1, 1, 0, 0, 0,
  1, 0, 1, 0, 0, 0, 1, 1, 0, 0,
  0, 1, 1, 0, 0, 0, 0, 0, 0, 0,
  0, 0, 0, 0, 0, 0, 0, 0, 0, 0,
  0, 0, 1, 1, 1, 1, 0,
];
const pirTicks = [20, 16, 12, 8];

type Row = { i: number; name: string; count: string; mean: number; err: number[]; sig: number };

function buildRows(names: string[], counts: string[], mean: number[], lo: number[], hi: number[], sig: number[]): Row[] {
  return names.map((name, i) => ({
    i,
    name,
    count: counts[i],
    mean: mean[i],
    err: [mean[i] - lo[i], hi[i] - mean[i]],
    sig: sig[i],
  }));
}

const f1Rows = buildRows(f1Names, f1Counts, f1Mean, f1Lo, f1Hi, f1Sig);
const f2Rows = buildRows(f2Names, f2Counts, f2Mean, f2Lo, f2Hi, f2Sig);
const f3Rows = buildRows(f3Names, f3Counts, f3Mean, f3Lo, f3Hi, f3Sig);
const f4Rows = buildRows(f4Names, f4Counts, f4Mean, f4Lo, f4Hi, f4Sig);
const pirRows = buildRows(pirNames, pirCounts, pirMean, pirLo, pirHi, pirSig);

const pirBreaks: number[] = [];
pirGroupSizes.slice(0, -1).reduce((acc, n) => {
  pirBreaks.push(acc + n - 0.5);
  return acc + n;
}, 0);

type Layout = {
  top: number;
  width: number;
  height: number;
  plotTop: number;
  plotLeft: number;
  yAxisWidth: number;
  xAxisHeight: number;
  xDomain: [number, number];
  yDomain: [number, number];
  yTickSize: number;
  yTickMargin: number;
  yTickFont: number;
  xTickSize: number;
  xTickMargin: number;
  nameFont: number;
  countFont: number;
  countGap: number;
  side: number;
  redSide: number;
  hollow: boolean;
  markerStroke: number;
  cap: number;
  barWidth: number;
};

const layout1: Layout = {
  top: 0, width: 840, height: 240, plotTop: 41.7, plotLeft: 10, yAxisWidth: 59, xAxisHeight: 56.7,
  xDomain: [-0.56, 107.7], yDomain: [5.15, 28.4],
  yTickSize: 4, yTickMargin: 2, yTickFont: 14, xTickSize: 5, xTickMargin: 3,
  nameFont: 5.5, countFont: 3.6, countGap: 15.5,
  side: 3.4, redSide: 4.2, hollow: false, markerStroke: 1, cap: 2, barWidth: 1.1,
};
const layout2: Layout = {
  top: 200, width: 830, height: 360, plotTop: 45.7, plotLeft: 21, yAxisWidth: 62.7, xAxisHeight: 85.7,
  xDomain: [-0.69, 66.66], yDomain: [5.3, 28.65],
  yTickSize: 4, yTickMargin: 5, yTickFont: 14, xTickSize: 4, xTickMargin: 2,
  nameFont: 8.5, countFont: 7.5, countGap: 6,
  side: 4.2, redSide: 4.6, hollow: true, markerStroke: 1.1, cap: 3.2, barWidth: 1.2,
};
const layout3: Layout = {
  top: 520, width: 800, height: 520, plotTop: 45.9, plotLeft: 19.7, yAxisWidth: 49.6, xAxisHeight: 110.3,
  xDomain: [-0.63, 43.76], yDomain: [5.19, 29.27],
  yTickSize: 5, yTickMargin: 6, yTickFont: 14, xTickSize: 4, xTickMargin: 2.5,
  nameFont: 11.5, countFont: 11.5, countGap: 4.2,
  side: 7, redSide: 8, hollow: true, markerStroke: 1.3, cap: 5, barWidth: 1.6,
};
const layout4: Layout = {
  top: 990, width: 800, height: 635, plotTop: 46.4, plotLeft: 19.7, yAxisWidth: 61, xAxisHeight: 132.6,
  xDomain: [-0.82, 34.72], yDomain: [5.29, 28.65],
  yTickSize: 7, yTickMargin: 10, yTickFont: 15, xTickSize: 7, xTickMargin: 5.5,
  nameFont: 14.5, countFont: 13, countGap: 4,
  side: 8, redSide: 9, hollow: true, markerStroke: 1.5, cap: 6, barWidth: 1.8,
};

function FactorTick(props: any) {
  const { x, y, payload, rows, lay } = props;
  const row: Row | undefined = rows[payload.value];
  if (!row) return null;
  const axisY = y - lay.xTickSize - lay.xTickMargin;
  const cy = axisY - lay.countGap;
  return (
    <g>
      <text
        x={x}
        y={y}
        dy="0.35em"
        transform={`rotate(-90 ${x} ${y})`}
        textAnchor="end"
        fontSize={lay.nameFont}
        fontFamily={FONT}
        fill="#111"
      >
        {row.name}
      </text>
      <text
        x={x}
        y={cy}
        dy="0.35em"
        transform={`rotate(-90 ${x} ${cy})`}
        textAnchor="start"
        fontSize={lay.countFont}
        fontFamily={FONT}
        fill="#111"
      >
        {row.count}
      </text>
    </g>
  );
}

function factorMarker(p: any, lay: Layout) {
  const { cx, cy, payload } = p;
  if (cx == null || cy == null) return <g />;
  if (payload.sig) {
    const s = lay.redSide;
    return <rect x={cx - s / 2} y={cy - s / 2} width={s} height={s} fill={RED} />;
  }
  const s = lay.side;
  return (
    <rect
      x={cx - s / 2}
      y={cy - s / 2}
      width={s}
      height={s}
      fill={lay.hollow ? '#fff' : NAVY}
      stroke={NAVY}
      strokeWidth={lay.markerStroke}
    />
  );
}

function FactorPanel({ rows, lay }: { rows: Row[]; lay: Layout }) {
  const ticks = rows.map((r) => r.i);
  return (
    <div style={{ position: 'absolute', left: 0, top: lay.top }}>
      <ScatterChart
        width={lay.width}
        height={lay.height}
        margin={{ top: lay.plotTop, left: lay.plotLeft, right: 0, bottom: 0 }}
      >
        <CartesianGrid vertical={false} stroke={GRID} />
        <XAxis
          type="number"
          dataKey="i"
          domain={lay.xDomain}
          allowDataOverflow
          ticks={ticks}
          interval={0}
          height={lay.xAxisHeight}
          tickSize={lay.xTickSize}
          tickMargin={lay.xTickMargin}
          axisLine={{ stroke: '#000', strokeWidth: 1.5 }}
          tickLine={{ stroke: '#000' }}
          tick={(p: any) => <FactorTick {...p} rows={rows} lay={lay} />}
        />
        <YAxis
          type="number"
          dataKey="mean"
          orientation="right"
          reversed
          domain={lay.yDomain}
          allowDataOverflow
          ticks={cqTicks}
          interval={0}
          width={lay.yAxisWidth}
          tickSize={lay.yTickSize}
          tickMargin={lay.yTickMargin}
          axisLine={{ stroke: '#000', strokeWidth: 1.5 }}
          tickLine={{ stroke: '#000' }}
          tick={{ fontSize: lay.yTickFont, fill: '#000', fontFamily: FONT }}
        />
        <ReferenceArea
          x1={lay.xDomain[0]}
          x2={lay.xDomain[1]}
          y1={lay.yDomain[0]}
          y2={lay.yDomain[1]}
          fill="none"
          fillOpacity={0}
          stroke="#000"
          strokeWidth={1.5}
          ifOverflow="visible"
        />
        <Scatter data={rows} isAnimationActive={false} shape={(p: any) => factorMarker(p, lay)}>
          <ErrorBar
            dataKey="err"
            direction="y"
            width={lay.cap}
            stroke={BAR}
            strokeWidth={lay.barWidth}
            isAnimationActive={false}
          />
        </Scatter>
      </ScatterChart>
    </div>
  );
}

function PirTick(props: any) {
  const { x, y, payload } = props;
  const row = pirRows[payload.value];
  if (!row) return null;
  return (
    <g>
      <text x={x} y={y} dy="0.36em" textAnchor="end" fontSize={13} fontFamily={FONT} fill="#111">
        {row.name}
      </text>
      <text x={x + 18.6} y={y} dy="0.36em" textAnchor="start" fontSize={13} fontFamily={FONT} fill="#111">
        {row.count}
      </text>
    </g>
  );
}

function pirMarker(p: any) {
  const { cx, cy, payload } = p;
  if (cx == null || cy == null) return <g />;
  if (payload.sig) return <circle cx={cx} cy={cy} r={4.4} fill={PIR_RED} />;
  return <rect x={cx - 2.8} y={cy - 2.8} width={5.6} height={5.6} fill="#fff" stroke={PIR_BAR} strokeWidth={1.2} />;
}

function PirPanel() {
  const yDomain: [number, number] = [-0.73, 96.8];
  return (
    <div style={{ position: 'absolute', left: 820, top: 0 }}>
      <ScatterChart width={491} height={1530} margin={{ top: 41.7, left: 0, right: 0, bottom: 0 }}>
        <CartesianGrid horizontal={false} stroke={GRID} />
        <XAxis
          type="number"
          dataKey="mean"
          reversed
          domain={[3.9, 28.66]}
          allowDataOverflow
          ticks={pirTicks}
          interval={0}
          height={63.3}
          tickLine={false}
          tickSize={6}
          tickMargin={8}
          axisLine={{ stroke: '#000', strokeWidth: 1.5 }}
          tick={{ fontSize: 13, fill: '#000', fontFamily: FONT }}
        />
        <YAxis
          type="number"
          dataKey="i"
          reversed
          domain={yDomain}
          allowDataOverflow
          ticks={pirRows.map((r) => r.i)}
          interval={0}
          width={106.7}
          tickSize={9}
          tickMargin={2}
          axisLine={{ stroke: '#000', strokeWidth: 1.5 }}
          tickLine={{ stroke: '#000' }}
          tick={(p: any) => <PirTick {...p} />}
        />
        <ReferenceLine y={yDomain[0]} stroke="#9a9a9a" strokeWidth={1.2} ifOverflow="visible" />
        {pirBreaks.map((b) => (
          <ReferenceLine key={b} y={b} stroke="#9a9a9a" strokeWidth={1.2} />
        ))}
        <Scatter data={pirRows} isAnimationActive={false} shape={pirMarker}>
          <ErrorBar
            dataKey="err"
            direction="x"
            width={3}
            stroke={PIR_BAR}
            strokeWidth={1.2}
            isAnimationActive={false}
          />
        </Scatter>
      </ScatterChart>
    </div>
  );
}

function Txt({ x, y, size, bold, children }: { x: number; y: number; size: number; bold?: boolean; children: React.ReactNode }) {
  return (
    <div
      style={{
        position: 'absolute',
        left: x,
        top: y,
        fontSize: size,
        lineHeight: 1,
        fontWeight: bold ? 700 : 400,
        whiteSpace: 'nowrap',
        color: '#000',
      }}
    >
      {children}
    </div>
  );
}

function AxisTitle({ cx, cy, size, vertical = true }: { cx: number; cy: number; size: number; vertical?: boolean }) {
  return (
    <div
      style={{
        position: 'absolute',
        left: cx,
        top: cy,
        fontSize: size,
        lineHeight: 1,
        whiteSpace: 'nowrap',
        color: '#000',
        transform: `translate(-50%, -50%)${vertical ? ' rotate(-90deg)' : ''}`,
      }}
    >
      Cq value
    </div>
  );
}

export default function App() {
  return (
    <div
      style={{
        position: 'absolute',
        left: 0,
        top: 0,
        width: 1311,
        height: 1625,
        background: '#fff',
        overflow: 'hidden',
        fontFamily: FONT,
      }}
    >
      <FactorPanel rows={f1Rows} lay={layout1} />
      <FactorPanel rows={f2Rows} lay={layout2} />
      <FactorPanel rows={f3Rows} lay={layout3} />
      <FactorPanel rows={f4Rows} lay={layout4} />
      <PirPanel />

      <Txt x={9} y={6} size={26} bold>a</Txt>
      <Txt x={852} y={6} size={26} bold>b</Txt>
      <Txt x={15.7} y={46.3} size={26} bold>Factor 1</Txt>
      <Txt x={29.3} y={246.3} size={26} bold>Factor 2</Txt>
      <Txt x={29} y={580} size={26} bold>Factor 3</Txt>
      <Txt x={29} y={1048.6} size={26} bold>Factor 4</Txt>

      <AxisTitle cx={819} cy={112.5} size={14} />
      <AxisTitle cx={808} cy={360} size={15} />
      <AxisTitle cx={794} cy={747.8} size={15.5} />
      <AxisTitle cx={793} cy={1264} size={21.5} />
      <AxisTitle cx={1123.7} cy={1502.7} size={12.5} vertical={false} />
    </div>
  );
}
